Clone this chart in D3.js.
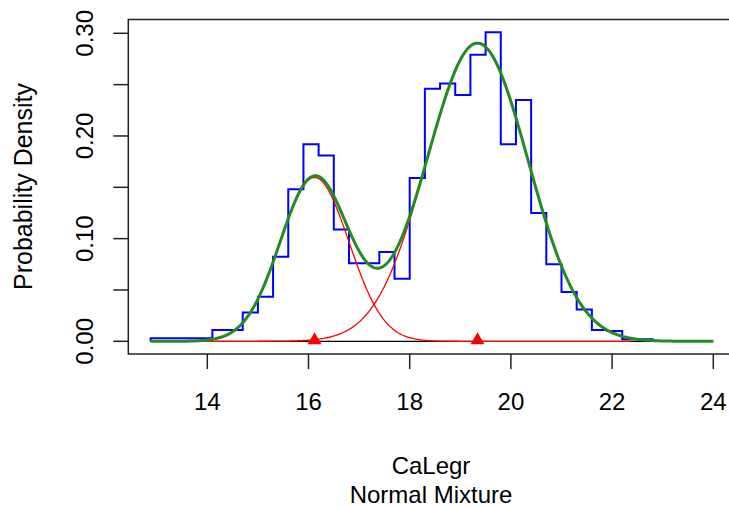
<!DOCTYPE html>
<html>
<head>
<meta charset="utf-8">
<script src="https://cdn.jsdelivr.net/npm/d3@7"></script>
<style>
html,body{margin:0;padding:0;background:#fff;}
svg{display:block;}
text{font-family:"Liberation Sans",Arial,sans-serif;fill:#000;}
</style>
</head>
<body>
<svg id="chart" width="729" height="509"></svg>
<script>
// ---- data ----
const binBreaks = [12.88, 14.1, 14.4, 14.7, 15.0, 15.3, 15.6, 15.9, 16.2, 16.5, 16.8, 17.1, 17.4, 17.7, 18.0,
                   18.3, 18.6, 18.9, 19.2, 19.5, 19.8, 20.1, 20.4, 20.7, 21.0, 21.3, 21.6, 21.9, 22.2, 22.8];
const binDensity = [0.003, 0.011, 0.011, 0.028, 0.0435, 0.0824, 0.148, 0.192, 0.181, 0.109, 0.076, 0.076, 0.087, 0.061,
                    0.159, 0.246, 0.251, 0.240, 0.279, 0.301, 0.192, 0.235, 0.125, 0.075, 0.048, 0.031, 0.011, 0.010, 0.002];
const compMeans = [16.12, 19.34];
const compSigmas = [0.68, 1.0];
const compProps = [0.272, 0.728];
const compRange = [13.79, 22.37];
const mixRange = [12.88, 24.0];
const xTicks = [14, 16, 18, 20, 22, 24];
const yTicks = [0, 0.05, 0.10, 0.15, 0.20, 0.25, 0.30];
const yTickLabels = ["0.00", "0.10", "0.20", "0.30"];
const xTitle = "CaLegr";
const subTitle = "Normal Mixture";
const yTitle = "Probability Density";

// ---- layout ----
const svg = d3.select("#chart");
const x = d3.scaleLinear().domain([14, 24]).range([207.3, 713.3]);
const y = d3.scaleLinear().domain([0, 0.30]).range([341.3, 33.3]);
const box = {left: 128.3, right: 734, top: 19.5, bottom: 354};

function dnorm(v, m, s) { return Math.exp(-0.5 * ((v - m) / s) ** 2) / (s * Math.sqrt(2 * Math.PI)); }
function grid(a, b, n) { return d3.range(n + 1).map(i => a + (b - a) * i / n); }

// histogram outline (step)
let hp = d3.path();
hp.moveTo(x(binBreaks[0]), y(0));
binDensity.forEach((d, i) => {
  hp.lineTo(x(binBreaks[i]), y(d));
  hp.lineTo(x(binBreaks[i + 1]), y(d));
});
hp.lineTo(x(binBreaks[binBreaks.length - 1]), y(0));
svg.append("path").attr("d", hp.toString()).attr("fill", "none")
  .attr("stroke", "#0000FF").attr("stroke-width", 2).attr("stroke-linejoin", "miter");

// baseline
svg.append("line").attr("x1", x(mixRange[0])).attr("x2", x(mixRange[1]))
  .attr("y1", y(0)).attr("y2", y(0)).attr("stroke", "#000").attr("stroke-width", 1.3);

const line = d3.line().x(d => x(d[0])).y(d => y(d[1]));

// components
compMeans.forEach((m, j) => {
  const pts = grid(compRange[0], compRange[1], 400).map(v => [v, compProps[j] * dnorm(v, m, compSigmas[j])]);
  svg.append("path").attr("d", line(pts)).attr("fill", "none")
    .attr("stroke", "#FF0000").attr("stroke-width", 1.3);
});

// mixture
const mixPts = grid(mixRange[0], mixRange[1], 600).map(v =>
  [v, d3.sum(compMeans, (m, j) => compProps[j] * dnorm(v, m, compSigmas[j]))]);
svg.append("path").attr("d", line(mixPts)).attr("fill", "none")
  .attr("stroke", "#228B22").attr("stroke-width", 3).attr("stroke-linejoin", "round");

// triangles at means
const tri = d3.symbol().type(d3.symbolTriangle).size(85);
compMeans.forEach(m => {
  svg.append("path").attr("d", tri()).attr("fill", "#FF0000")
    .attr("transform", `translate(${x(m)},${y(0) - 1})`);
});

// box
svg.append("rect").attr("x", box.left).attr("y", box.top)
  .attr("width", box.right - box.left).attr("height", box.bottom - box.top)
  .attr("fill", "none").attr("stroke", "#222").attr("stroke-width", 1.5);

// x axis
const xa = svg.append("g");
xTicks.forEach(t => {
  xa.append("line").attr("x1", x(t)).attr("x2", x(t)).attr("y1", box.bottom).attr("y2", box.bottom + 15)
    .attr("stroke", "#222").attr("stroke-width", 1.5);
  xa.append("text").attr("x", x(t)).attr("y", 410).attr("text-anchor", "middle")
    .attr("font-size", 24).text(d3.format("d")(t));
});

// y axis
const ya = svg.append("g");
yTicks.forEach(t => {
  ya.append("line").attr("x1", box.left - 15).attr("x2", box.left).attr("y1", y(t)).attr("y2", y(t))
    .attr("stroke", "#222").attr("stroke-width", 1.5);
});
yTickLabels.forEach(l => {
  ya.append("text").attr("transform", `translate(93,${y(+l)}) rotate(-90)`)
    .attr("text-anchor", "middle").attr("font-size", 24).text(l);
});

// titles
svg.append("text").attr("x", 431).attr("y", 474).attr("text-anchor", "middle").attr("font-size", 24).text(xTitle);
svg.append("text").attr("x", 431).attr("y", 503).attr("text-anchor", "middle").attr("font-size", 24).text(subTitle);
svg.append("text").attr("transform", `translate(32,186.5) rotate(-90)`)
  .attr("text-anchor", "middle").attr("font-size", 25).text(yTitle);
</script>
</body>
</html>
